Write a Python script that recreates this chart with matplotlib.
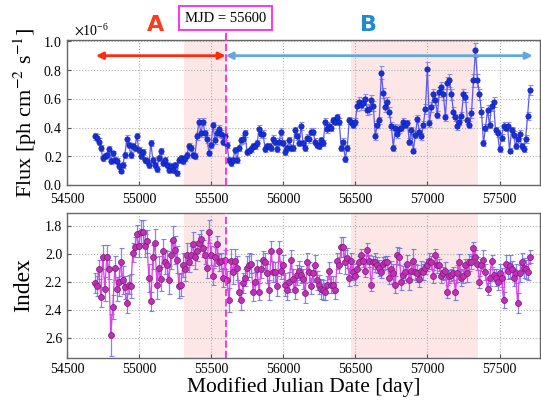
import matplotlib
matplotlib.use("Agg")
import matplotlib.pyplot as plt
import matplotlib.transforms as mtransforms
from matplotlib.ticker import ScalarFormatter
import numpy as np

# 2-week binned light curve, bin centres (MJD)
T_START = 54692.0
T_STEP = 13.9

# flux in units of 1e-6 ph cm^-2 s^-1
FLUX = [
    0.338, 0.33, 0.30, 0.26, 0.19, 0.20, 0.21, 0.25, 0.165, 0.22,
    0.175, 0.165, 0.13, 0.10, 0.14, 0.21, 0.32, 0.28, 0.21, 0.27,
    0.26, 0.34, 0.245, 0.20, 0.23, 0.175, 0.165, 0.14, 0.29, 0.175,
    0.14, 0.11, 0.19, 0.235, 0.15, 0.175, 0.14, 0.105, 0.13, 0.105,
    0.14, 0.08, 0.175, 0.19, 0.165, 0.19, 0.21, 0.27, 0.26, 0.21,
    0.20, 0.34, 0.44, 0.36, 0.44, 0.36, 0.32, 0.22, 0.28, 0.415,
    0.31, 0.36, 0.39, 0.355, 0.30, 0.34, 0.28, 0.175, 0.15, 0.175,
    0.245, 0.175, 0.26, 0.31, 0.32, 0.36,
    0.23, 0.24, 0.25, 0.27, 0.27, 0.29, 0.39, 0.355, 0.355, 0.25,
    0.27, 0.27, 0.26, 0.32, 0.30, 0.25, 0.30, 0.37, 0.29, 0.23,
    0.26, 0.31, 0.26, 0.26, 0.38, 0.34, 0.29, 0.41, 0.29, 0.26,
    0.33, 0.32, 0.37, 0.37, 0.30, 0.28, 0.27, 0.31, 0.29, 0.44,
    0.39, 0.41, 0.40, 0.45, 0.44, 0.47, 0.44, 0.26, 0.30, 0.18,
    0.26, 0.45, 0.44, 0.42, 0.44, 0.55, 0.58, 0.56, 0.57, 0.60,
    0.52, 0.53, 0.59, 0.55, 0.34, 0.42, 0.45, 0.78, 0.64, 0.54,
    0.58, 0.51, 0.41, 0.26, 0.40, 0.355,
    0.39, 0.40, 0.44, 0.42, 0.43, 0.30, 0.38, 0.24, 0.35, 0.46,
    0.37, 0.34, 0.42, 0.53, 0.81, 0.43, 0.54, 0.63, 0.59, 0.49,
    0.65, 0.68, 0.63, 0.47, 0.71, 0.73, 0.63, 0.51, 0.47, 0.41,
    0.44, 0.48, 0.63, 0.61, 0.45, 0.42, 0.50, 0.73, 0.94, 0.73,
    0.63, 0.51, 0.29, 0.40, 0.52, 0.42, 0.55, 0.58, 0.38, 0.36,
    0.25, 0.33, 0.41, 0.40, 0.41, 0.24, 0.38, 0.35, 0.27, 0.32,
    0.355, 0.27, 0.25, 0.32, 0.48, 0.66,
]

FLUX_ERR = [
    .025, .025, .025, .02, .02, .02, .02, .02, .02, .02,
    .02, .02, .02, .02, .02, .02, .025, .02, .02, .02,
    .02, .025, .02, .02, .02, .02, .02, .02, .02, .02,
    .02, .02, .02, .02, .02, .02, .02, .02, .02, .02,
    .02, .02, .02, .02, .02, .02, .02, .02, .02, .02,
    .02, .025, .025, .025, .025, .025, .025, .02, .02, .025,
    .025, .025, .025, .025, .025, .025, .02, .02, .02, .02,
    .02, .02, .02, .025, .025, .025,
    .02, .02, .02, .02, .02, .02, .025, .025, .025, .02,
    .02, .02, .02, .025, .025, .02, .025, .025, .02, .02,
    .02, .025, .02, .02, .025, .025, .02, .025, .02, .02,
    .025, .025, .025, .025, .025, .02, .02, .025, .02, .025,
    .025, .025, .025, .025, .025, .025, .025, .02, .025, .02,
    .02, .025, .025, .025, .025, .035, .035, .035, .035, .035,
    .035, .035, .035, .035, .025, .025, .025, .045, .035, .035,
    .035, .035, .025, .02, .025, .025,
    .025, .025, .025, .025, .025, .025, .025, .02, .025, .025,
    .025, .025, .025, .035, .045, .025, .035, .035, .035, .025,
    .035, .035, .035, .025, .045, .045, .035, .035, .025, .025,
    .025, .025, .035, .035, .025, .025, .035, .045, .05, .045,
    .035, .035, .02, .025, .035, .025, .035, .035, .025, .025,
    .02, .025, .025, .025, .025, .02, .025, .025, .02, .025,
    .025, .02, .02, .025, .025, .035,
]

INDEX = [
    2.21, 2.23, 2.11, 2.31, 2.02, 2.25, 2.02, 2.11, 2.58, 2.38,
    2.10, 2.25, 2.20, 2.06, 2.19, 2.24, 2.35, 2.22, 2.23, 1.99,
    1.95, 1.86, 1.94, 1.84, 1.84, 1.94, 1.91, 2.17, 2.34, 2.02,
    1.92, 2.22, 2.10, 2.18, 1.98, 2.06, 2.08, 2.19, 2.01, 1.90,
    1.97, 2.04, 2.23, 2.22, 2.08, 2.11, 2.01, 2.06, 2.01, 1.93,
    2.02, 1.98, 1.92, 1.89, 1.96, 2.01, 2.10, 1.84, 2.01, 2.16,
    2.02, 1.93, 2.06, 2.05, 2.17, 2.04, 2.19, 2.33, 2.05, 2.13,
    2.05, 2.10, 2.27, 2.33, 2.21, 2.17,
    2.10, 2.08, 2.07, 2.27, 2.20, 2.11, 2.27, 2.11, 2.04, 2.06,
    2.14, 2.26, 1.98, 2.13, 2.13, 2.23, 1.98, 2.12, 2.08, 2.22,
    2.26, 2.20, 2.04, 2.18, 2.26, 2.15, 2.12, 2.15, 2.18, 2.28,
    2.06, 2.13, 2.23, 2.14, 2.08, 2.19, 2.22, 2.25, 2.26, 2.27,
    2.22, 2.12, 2.22, 2.22, 2.26, 2.05, 2.08, 1.95, 1.95, 2.06,
    2.03, 2.17, 2.05, 2.13, 2.16, 2.11, 2.06, 2.01, 2.05, 2.12,
    1.97, 2.05, 2.22, 2.06, 2.06, 2.08, 2.10, 2.13, 2.07, 2.06,
    2.06, 2.17, 2.11, 2.14, 2.22, 2.01,
    2.02, 2.20, 2.15, 2.13, 2.07, 2.19, 2.12, 2.05, 2.13, 2.14,
    2.18, 2.12, 2.13, 2.10, 2.08, 2.05, 2.06, 2.16, 2.01, 2.08,
    2.08, 2.16, 2.14, 2.12, 2.27, 2.16, 2.15, 2.14, 2.27, 2.14,
    2.06, 2.17, 2.16, 2.08, 2.14, 2.06, 2.06, 1.96, 2.02, 2.07,
    2.20, 2.08, 2.04, 2.13, 2.25, 2.17, 2.05, 2.15, 2.17, 2.20,
    2.14, 2.17, 2.33, 2.07, 2.12, 2.09, 2.11, 2.17, 2.14, 2.35,
    2.14, 2.06, 2.10, 2.11, 2.13, 2.02,
]

INDEX_ERR = [
    .07, .07, .07, .07, .085, .085, .085, .07, .15, .085,
    .085, .085, .10, .10, .10, .085, .07, .07, .085, .07,
    .07, .07, .085, .085, .085, .085, .085, .10, .07, .085,
    .10, .10, .085, .085, .085, .085, .10, .10, .10, .10,
    .10, .10, .085, .085, .085, .085, .085, .07, .07, .085,
    .085, .07, .06, .06, .06, .06, .07, .085, .07, .06,
    .07, .06, .06, .06, .07, .07, .07, .085, .085, .085,
    .085, .085, .07, .07, .07, .06,
    .085, .085, .07, .07, .07, .07, .06, .06, .06, .07,
    .07, .07, .07, .07, .07, .07, .07, .06, .07, .085,
    .07, .07, .07, .07, .06, .07, .07, .06, .07, .07,
    .07, .07, .06, .06, .07, .07, .07, .07, .07, .06,
    .06, .06, .06, .06, .06, .06, .06, .07, .07, .085,
    .07, .06, .06, .06, .06, .045, .045, .045, .045, .045,
    .045, .045, .045, .045, .07, .06, .06, .045, .045, .045,
    .045, .045, .06, .07, .06, .06,
    .06, .06, .06, .06, .06, .07, .06, .085, .06, .06,
    .06, .07, .06, .045, .045, .06, .045, .045, .045, .06,
    .045, .045, .045, .06, .045, .045, .045, .045, .06, .06,
    .06, .06, .045, .045, .06, .06, .045, .045, .045, .045,
    .045, .045, .07, .06, .045, .06, .045, .045, .06, .06,
    .07, .07, .06, .06, .06, .085, .06, .06, .07, .07,
    .06, .07, .07, .07, .06, .045,
]

MJD_SPLIT = 55600
SHADE_SPANS = [(55310, 55600), (56470, 57350)]
ARROW_A = (54700, MJD_SPLIT)
ARROW_B = (MJD_SPLIT, 57730)

plt.rcParams["font.family"] = ["Liberation Serif", "DejaVu Serif"]
plt.rcParams["mathtext.fontset"] = "stix"

mjd = T_START + T_STEP * np.arange(len(FLUX))
flux = np.array(FLUX) * 1e-6
flux_err = np.array(FLUX_ERR) * 1e-6

fig = plt.figure(figsize=(5.41, 4.03), dpi=100)
ax1 = fig.add_axes([0.124, 0.541, 0.874, 0.360])
ax2 = fig.add_axes([0.124, 0.112, 0.874, 0.360])

for ax in (ax1, ax2):
    for lo, hi in SHADE_SPANS:
        ax.axvspan(lo, hi, color="#fde6e6", zorder=0, lw=0)
    ax.axvline(MJD_SPLIT, color="#ff33ee", ls="--", lw=1.4, zorder=5)
    ax.set_xlim(54500, 57780)
    ax.set_xticks(np.arange(54500, 57600, 500))
    ax.grid(True, ls=":", color="#b0b0b0", lw=0.8)
    ax.tick_params(labelsize=10, direction="in", length=3, color="#555555")
    for s in ax.spines.values():
        s.set_color("#666666")
        s.set_linewidth(1.0)

# flux panel
ax1.errorbar(mjd, flux, yerr=flux_err, fmt="none", ecolor="#8c8cf5",
             elinewidth=0.9, capsize=1.8, capthick=0.8, zorder=2)
ax1.plot(mjd, flux, "-", color="#5a5aee", lw=0.9, zorder=3)
ax1.plot(mjd, flux, "o", ms=3.8, mfc="#1530e0", mec="#10209a", mew=0.5, zorder=4)
ax1.set_ylim(0, 1.01e-6)
ax1.set_yticks(np.arange(0, 1.01e-6, 0.2e-6))
fmt = ScalarFormatter(useMathText=True)
fmt.set_powerlimits((-6, -6))
ax1.yaxis.set_major_formatter(fmt)
ax1.yaxis.get_offset_text().set_fontsize(10)
ax1.yaxis.get_offset_text().set_x(0.015)
ax1.tick_params(axis="x", pad=6)
ax1.set_ylabel(r"Flux [ph cm$^{-2}$ s$^{-1}$]", fontsize=16, labelpad=3)

ax1.annotate("", xy=(ARROW_A[0], 0.9e-6), xytext=(ARROW_A[1], 0.9e-6),
             arrowprops=dict(arrowstyle="<|-|>", color="#ff2a10", lw=2.0,
                             shrinkA=0, shrinkB=0, mutation_scale=10), zorder=6)
ax1.annotate("", xy=(ARROW_B[0], 0.9e-6), xytext=(ARROW_B[1], 0.9e-6),
             arrowprops=dict(arrowstyle="<|-|>", color="#62a8e0", lw=2.0,
                             shrinkA=0, shrinkB=0, mutation_scale=10), zorder=6)

trans = mtransforms.blended_transform_factory(ax1.transData, ax1.transAxes)
ax1.text(55110, 1.10, "A", transform=trans, ha="center", va="center",
         fontsize=16, fontweight="bold", color="#ff3a1e", family="DejaVu Sans")
ax1.text(56590, 1.10, "B", transform=trans, ha="center", va="center",
         fontsize=16, fontweight="bold", color="#1b8bd2", family="DejaVu Sans")
ax1.plot([MJD_SPLIT, MJD_SPLIT], [1.0, 1.08], transform=trans, clip_on=False,
         color="#ff33ee", ls="--", lw=1.4)
ax1.text(MJD_SPLIT, 1.15, "MJD = 55600", transform=trans, ha="center", va="center",
         fontsize=10.5, bbox=dict(boxstyle="square,pad=0.4", fc="white",
                                  ec="#ff33ee", lw=1.4))

# index panel
ax2.errorbar(mjd, INDEX, yerr=INDEX_ERR, fmt="none", ecolor="#6c6cf8",
             elinewidth=0.9, capsize=1.8, capthick=0.8, alpha=0.85, zorder=2)
ax2.plot(mjd, INDEX, "-", color="#e040e8", lw=0.9, zorder=3)
ax2.plot(mjd, INDEX, "o", ms=4.3, mfc="#c22eb6", mec="#7a1a78", mew=0.5, zorder=4)
ax2.set_ylim(2.745, 1.705)
ax2.set_yticks([1.8, 2.0, 2.2, 2.4, 2.6])
ax2.set_ylabel("Index", fontsize=17, labelpad=8)
ax2.set_xlabel("Modified Julian Date [day]", fontsize=15.5, labelpad=1)

fig.savefig("out.png", dpi=100)
